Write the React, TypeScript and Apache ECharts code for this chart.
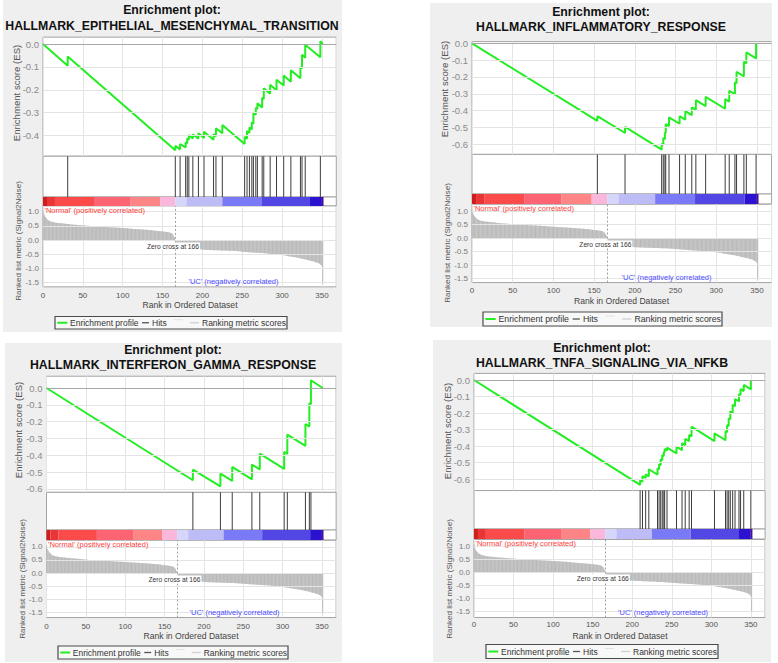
import React, { useEffect, useRef } from "react";
import * as echarts from "echarts";

// ---------------- data ----------------
const X_MAX = 368;
const X_STEP = 50;
const ZERO_CROSS = 166;

const SET_NAMES = [
  "HALLMARK_EPITHELIAL_MESENCHYMAL_TRANSITION",
  "HALLMARK_INFLAMMATORY_RESPONSE",
  "HALLMARK_INTERFERON_GAMMA_RESPONSE",
  "HALLMARK_TNFA_SIGNALING_VIA_NFKB",
];

// ranked list metric (Signal2Noise), rank 0..351
const METRIC = [
  1.05, 0.93, 0.86, 0.81, 0.77, 0.74, 0.71, 0.69, 0.67, 0.66,
  0.65, 0.64, 0.63, 0.63, 0.62, 0.62, 0.61, 0.61, 0.6, 0.6,
  0.6, 0.59, 0.59, 0.59, 0.58, 0.58, 0.58, 0.57, 0.57, 0.57,
  0.56, 0.56, 0.56, 0.56, 0.55, 0.55, 0.55, 0.55, 0.54, 0.54,
  0.54, 0.54, 0.53, 0.53, 0.53, 0.53, 0.52, 0.52, 0.52, 0.52,
  0.51, 0.51, 0.51, 0.51, 0.5, 0.5, 0.5, 0.5, 0.5, 0.49,
  0.49, 0.49, 0.49, 0.49, 0.48, 0.48, 0.48, 0.48, 0.48, 0.47,
  0.47, 0.47, 0.47, 0.47, 0.47, 0.46, 0.46, 0.46, 0.46, 0.46,
  0.45, 0.45, 0.45, 0.45, 0.45, 0.45, 0.44, 0.44, 0.44, 0.44,
  0.44, 0.44, 0.43, 0.43, 0.43, 0.43, 0.43, 0.43, 0.42, 0.42,
  0.42, 0.42, 0.42, 0.41, 0.41, 0.41, 0.41, 0.41, 0.4, 0.4,
  0.4, 0.4, 0.4, 0.39, 0.39, 0.39, 0.39, 0.39, 0.38, 0.38,
  0.38, 0.38, 0.38, 0.37, 0.37, 0.37, 0.37, 0.36, 0.36, 0.36,
  0.36, 0.35, 0.35, 0.35, 0.35, 0.34, 0.34, 0.34, 0.34, 0.33,
  0.33, 0.33, 0.33, 0.32, 0.32, 0.32, 0.31, 0.31, 0.31, 0.3,
  0.3, 0.3, 0.29, 0.29, 0.29, 0.28, 0.28, 0.27, 0.27, 0.26,
  0.25, 0.24, 0.22, 0.19, 0.14, 0.08, -0.02, -0.08, -0.14, -0.19,
  -0.22, -0.24, -0.25, -0.26, -0.27, -0.27, -0.28, -0.28, -0.29, -0.29,
  -0.29, -0.3, -0.3, -0.3, -0.3, -0.31, -0.31, -0.31, -0.31, -0.31,
  -0.32, -0.32, -0.32, -0.32, -0.32, -0.33, -0.33, -0.33, -0.33, -0.33,
  -0.34, -0.34, -0.34, -0.34, -0.34, -0.35, -0.35, -0.35, -0.35, -0.35,
  -0.35, -0.35, -0.35, -0.36, -0.36, -0.36, -0.36, -0.36, -0.36, -0.36,
  -0.36, -0.36, -0.37, -0.37, -0.37, -0.37, -0.37, -0.37, -0.37, -0.37,
  -0.37, -0.38, -0.38, -0.38, -0.38, -0.38, -0.38, -0.38, -0.38, -0.38,
  -0.39, -0.39, -0.39, -0.39, -0.39, -0.4, -0.4, -0.4, -0.4, -0.41,
  -0.41, -0.41, -0.41, -0.42, -0.42, -0.42, -0.42, -0.43, -0.43, -0.43,
  -0.43, -0.43, -0.44, -0.44, -0.44, -0.44, -0.44, -0.45, -0.45, -0.45,
  -0.45, -0.45, -0.46, -0.46, -0.46, -0.46, -0.46, -0.47, -0.47, -0.47,
  -0.47, -0.47, -0.48, -0.48, -0.48, -0.48, -0.49, -0.49, -0.49, -0.49,
  -0.5, -0.5, -0.5, -0.51, -0.51, -0.51, -0.52, -0.52, -0.52, -0.53,
  -0.53, -0.53, -0.54, -0.54, -0.55, -0.55, -0.56, -0.56, -0.57, -0.57,
  -0.58, -0.58, -0.59, -0.59, -0.6, -0.6, -0.61, -0.61, -0.62, -0.62,
  -0.63, -0.63, -0.64, -0.64, -0.65, -0.66, -0.66, -0.67, -0.68, -0.68,
  -0.69, -0.7, -0.7, -0.71, -0.72, -0.72, -0.73, -0.74, -0.75, -0.75,
  -0.76, -0.77, -0.78, -0.79, -0.8, -0.81, -0.82, -0.84, -0.86, -0.88,
  -0.92, -1.55,
];

const COLOR_BAR_EDGES = [0, 5, 15, 64, 110, 147, 166, 180, 225, 274, 335, 350, 352];
const COLOR_BAR_COLORS = [
  "#cf1d1d", "#e93535", "#fa4a4a", "#fc6474", "#fd8585", "#fbb6dc",
  "#d6d6fb", "#bdbcf7", "#7a7af7", "#5246e4", "#2b12d0", "#50108f",
];

const HITS_EMT = [31, 166, 172, 179, 181, 183, 188, 195, 202, 214, 217, 225, 253, 256, 259, 262, 264, 267, 269, 275, 277, 285, 293, 302, 311, 323, 325, 329, 348];
const ES_EMT = [
  [0, 0], [31, -0.095], [31, -0.055], [166, -0.464], [166, -0.445],
  [172, -0.46], [172, -0.437], [179, -0.452], [179, -0.43], [181, -0.434], [181, -0.412],
  [183, -0.418], [183, -0.397], [188, -0.413], [188, -0.395], [195, -0.413], [195, -0.39],
  [202, -0.41], [202, -0.383], [214, -0.418], [214, -0.394], [217, -0.403], [217, -0.368],
  [225, -0.39], [225, -0.354], [253, -0.437], [253, -0.405], [256, -0.414], [256, -0.38],
  [259, -0.388], [259, -0.365], [262, -0.373], [262, -0.342], [264, -0.348], [264, -0.3],
  [267, -0.309], [267, -0.278], [269, -0.284], [269, -0.259], [275, -0.277], [275, -0.235],
  [277, -0.24], [277, -0.193], [285, -0.217], [285, -0.178], [293, -0.202], [293, -0.156],
  [302, -0.181], [302, -0.138], [311, -0.165], [311, -0.115], [323, -0.15], [323, -0.1],
  [325, -0.106], [325, -0.047], [329, -0.06], [329, -0.003], [348, -0.058], [348, 0.012],
  [351, 0.0],
];

const HITS_INFLAM = [154, 188, 233, 235, 237, 238, 242, 255, 262, 270, 275, 287, 311, 316, 323, 325, 334, 337, 349];
const ES_INFLAM = [
  [0, 0], [154, -0.461], [154, -0.433], [188, -0.533], [188, -0.497],
  [233, -0.632], [233, -0.597], [235, -0.603], [235, -0.563], [237, -0.569], [237, -0.53],
  [238, -0.533], [238, -0.48], [242, -0.492], [242, -0.44], [255, -0.478], [255, -0.433],
  [262, -0.454], [262, -0.403], [270, -0.427], [270, -0.38], [275, -0.395], [275, -0.338],
  [287, -0.373], [287, -0.318], [311, -0.389], [311, -0.332], [316, -0.347], [316, -0.282],
  [323, -0.302], [323, -0.232], [325, -0.238], [325, -0.169], [334, -0.196], [334, -0.11],
  [337, -0.119], [337, -0.054], [349, -0.09], [349, 0.0],
];

const HITS_IFNG = [186, 221, 236, 261, 271, 302, 306, 329, 334, 336];
const ES_IFNG = [
  [0, 0], [186, -0.548], [186, -0.485], [221, -0.584], [221, -0.509],
  [236, -0.552], [236, -0.469], [261, -0.543], [261, -0.455], [271, -0.484], [271, -0.39],
  [302, -0.481], [302, -0.38], [306, -0.392], [306, -0.277], [329, -0.344], [329, -0.214],
  [334, -0.229], [334, -0.09], [336, -0.096], [336, 0.046], [351, 0.0],
];

const HITS_TNFA = [210, 213, 217, 221, 232, 234, 236, 238, 240, 241, 244, 256, 263, 267, 272, 275, 304, 318, 320, 322, 324, 327, 330, 335, 337, 341, 350];
const ES_TNFA = [
  [0, 0], [210, -0.636], [210, -0.607], [213, -0.616], [213, -0.582],
  [217, -0.594], [217, -0.572], [221, -0.584], [221, -0.541], [232, -0.573], [232, -0.535],
  [234, -0.541], [234, -0.511], [236, -0.517], [236, -0.481], [238, -0.487], [238, -0.455],
  [240, -0.461], [240, -0.437], [241, -0.44], [241, -0.418], [244, -0.427], [244, -0.41],
  [256, -0.445], [256, -0.404], [263, -0.425], [263, -0.383], [267, -0.395], [267, -0.356],
  [272, -0.371], [272, -0.333], [275, -0.342], [275, -0.283], [304, -0.37], [304, -0.323],
  [318, -0.365], [318, -0.31], [320, -0.316], [320, -0.273], [322, -0.279], [322, -0.232],
  [324, -0.238], [324, -0.19], [327, -0.199], [327, -0.15], [330, -0.159], [330, -0.115],
  [335, -0.13], [335, -0.085], [337, -0.091], [337, -0.055], [341, -0.067], [341, -0.03],
  [350, -0.057], [350, 0.0],
];

const PANELS = [
  { name: SET_NAMES[0], es: ES_EMT, hits: HITS_EMT },
  { name: SET_NAMES[1], es: ES_INFLAM, hits: HITS_INFLAM },
  { name: SET_NAMES[2], es: ES_IFNG, hits: HITS_IFNG },
  { name: SET_NAMES[3], es: ES_TNFA, hits: HITS_TNFA },
];

// ---------------- layout ----------------
const LAYOUTS = [
  {
    bg: [3, 0, 339, 332], cx: 172, t1: 10, t2: 25.5, L: 43, k: 0.797,
    es: { y0: 44, ppu: 229, min: -0.49, max: 0.03 }, hitsBottom: 197, barBottom: 206,
    m: { y0: 240, ppu: 28.4, min: -1.65, max: 1.2 },
    esTitle: [16, 93], mTitle: [18, 241], xTitle: [190, 305], xLabelY: 295, legend: [55, 316.5, 232, 12.5],
  },
  {
    bg: [430, 3, 342, 324], cx: 601, t1: 12.3, t2: 26.7, L: 472, k: 0.814,
    es: { y0: 43.3, ppu: 168.3, min: -0.66, max: 0.01 }, hitsBottom: 194, barBottom: 204,
    m: { y0: 238, ppu: 27, min: -1.65, max: 1.25 },
    esTitle: [444, 89], mTitle: [447, 243], xTitle: [621.5, 301], xLabelY: 290, legend: [483, 312, 239, 14],
  },
  {
    bg: [5, 343, 337, 319], cx: 173, t1: 350, t2: 365, L: 46.5, k: 0.787,
    es: { y0: 388, ppu: 168.3, min: -0.62, max: 0.07 }, hitsBottom: 530, barBottom: 540,
    m: { y0: 573, ppu: 26.2, min: -1.7, max: 1.25 },
    esTitle: [18, 430], mTitle: [22, 579], xTitle: [191, 636], xLabelY: 626, legend: [58, 646, 230, 13],
  },
  {
    bg: [433, 340, 338, 322], cx: 602, t1: 348.3, t2: 362.7, L: 474, k: 0.791,
    es: { y0: 380, ppu: 165, min: -0.67, max: 0.04 }, hitsBottom: 529, barBottom: 539,
    m: { y0: 572, ppu: 26, min: -1.75, max: 1.25 },
    esTitle: [447, 431], mTitle: [449, 579], xTitle: [620, 636], xLabelY: 624, legend: [486, 644.5, 232, 14],
  },
];

const FONT = '"Liberation Sans", Arial, Helvetica, sans-serif';
const GREEN = "#22ee22";

function stepFormatter(step: number) {
  return (v: number) => {
    const q = v / step;
    const r = Math.round(q);
    if (Math.abs(q - r) > 1e-4) return "";
    const val = r * step;
    return (Math.abs(val) < 1e-9 ? 0 : val).toFixed(1);
  };
}

function gridValues(min: number, max: number, step: number) {
  const out: number[] = [];
  for (let i = Math.ceil(min / step - 1e-9); i <= Math.floor(max / step + 1e-9); i++) out.push(+(i * step).toFixed(4));
  return out;
}

function text(x: number, y: number, str: string, font: string, fill: string, align = "center", vAlign = "middle", extra: any = {}) {
  return {
    type: "text", x, y, z: 50, silent: true, ...extra,
    style: {
      text: str, font, fill,
      textAlign: align, textVerticalAlign: vAlign, align, verticalAlign: vAlign,
      ...(extra.style || {}),
    },
  };
}

function buildOption() {
  const grid: any[] = [];
  const xAxis: any[] = [];
  const yAxis: any[] = [];
  const series: any[] = [];
  const graphic: any[] = [];

  PANELS.forEach((d, p) => {
    const l = LAYOUTS[p];
    const W = l.k * X_MAX;
    const esTop = l.es.y0 - l.es.max * l.es.ppu;
    const esBot = l.es.y0 - l.es.min * l.es.ppu;
    const mTop = l.m.y0 - l.m.max * l.m.ppu;
    const mBot = l.m.y0 - l.m.min * l.m.ppu;
    const frame = { show: true, backgroundColor: "#ffffff", borderColor: "#a4a4a4", borderWidth: 1, outerBoundsMode: "none", containLabel: false };
    const g = p * 4;
    grid.push({ ...frame, left: l.L, width: W, top: esTop, height: esBot - esTop });
    grid.push({ ...frame, left: l.L, width: W, top: esBot, height: l.hitsBottom - esBot });
    grid.push({ ...frame, left: l.L, width: W, top: l.hitsBottom, height: l.barBottom - l.hitsBottom });
    grid.push({ ...frame, left: l.L, width: W, top: mTop, height: mBot - mTop });

    const xFmt = (v: number) => (Math.abs(v % X_STEP) < 1e-6 ? String(Math.round(v)) : "");
    for (let j = 0; j < 4; j++) {
      const visible = j === 0 || j === 3;
      xAxis.push({
        type: "value", gridIndex: g + j, min: 0, max: X_MAX, interval: X_STEP, show: visible,
        axisLine: { show: false }, axisTick: { show: false },
        splitLine: { show: visible, lineStyle: { color: "#e4e4e4", width: 1 } },
        axisLabel: {
          show: j === 3, margin: l.xLabelY - mBot - 4, fontSize: 8, color: "#555", fontFamily: FONT, formatter: xFmt,
        },
      });
    }
    yAxis.push({
      type: "value", gridIndex: g, min: l.es.min, max: l.es.max, interval: 0.01,
      axisLine: { show: false }, axisTick: { show: false }, splitLine: { show: false },
      axisLabel: { margin: 4, fontSize: 9.5, color: "#8a8a8a", fontFamily: FONT, formatter: stepFormatter(0.1) },
    });
    yAxis.push({ type: "value", gridIndex: g + 1, min: 0, max: 1, show: false });
    yAxis.push({ type: "value", gridIndex: g + 2, min: 0, max: 1, show: false });
    yAxis.push({
      type: "value", gridIndex: g + 3, min: l.m.min, max: l.m.max, interval: 0.05,
      axisLine: { show: false }, axisTick: { show: false }, splitLine: { show: false },
      axisLabel: { margin: 4, fontSize: 8, color: "#7a7a7a", fontFamily: FONT, formatter: stepFormatter(0.5) },
    });

    // ES grid lines
    series.push({
      type: "line", xAxisIndex: g, yAxisIndex: g, data: [], z: 1, silent: true,
      markLine: {
        silent: true, symbol: ["none", "none"], label: { show: false }, animation: false,
        data: gridValues(l.es.min, l.es.max, 0.1).map((v) => ({
          yAxis: v,
          lineStyle: { color: Math.abs(v) < 1e-9 ? "#a8a8a8" : "#e4e4e4", width: 1, type: "solid" },
        })),
      },
    });
    // running enrichment score
    series.push({
      type: "line", xAxisIndex: g, yAxisIndex: g, data: d.es, showSymbol: false, symbol: "none", z: 3,
      lineStyle: { color: GREEN, width: 2 }, silent: true,
    });
    // hits
    series.push({
      type: "bar", xAxisIndex: g + 1, yAxisIndex: g + 1, data: d.hits.map((h) => [h, 1]),
      barWidth: 1, itemStyle: { color: "#3c3c3c" }, silent: true,
    });
    // colour bar
    series.push({
      type: "line", xAxisIndex: g + 2, yAxisIndex: g + 2, data: [], silent: true,
      markArea: {
        silent: true,
        data: COLOR_BAR_COLORS.map((c, i) => [
          { xAxis: COLOR_BAR_EDGES[i], itemStyle: { color: c, opacity: 1, borderWidth: 0 } },
          { xAxis: COLOR_BAR_EDGES[i + 1] },
        ]),
      },
    });
    // metric grid lines + zero cross
    series.push({
      type: "line", xAxisIndex: g + 3, yAxisIndex: g + 3, data: [], z: 1, silent: true,
      markLine: {
        silent: true, symbol: ["none", "none"], label: { show: false }, animation: false,
        data: [
          ...gridValues(l.m.min, l.m.max, 0.5).map((v) => ({ yAxis: v, lineStyle: { color: "#e4e4e4", width: 1, type: "solid" } })),
          { xAxis: ZERO_CROSS, lineStyle: { color: "#a0a0a0", width: 1, type: [2, 2] } },
        ],
      },
    });
    // ranked list metric
    series.push({
      type: "bar", xAxisIndex: g + 3, yAxisIndex: g + 3, data: METRIC.map((v, i) => [i, v]),
      barWidth: 0.6, itemStyle: { color: "#b9b9b9" }, silent: true, z: 2,
    });

    // ---- texts ----
    const titleFont = `bold 12.3px ${FONT}`;
    graphic.push(text(l.cx, l.t1, "Enrichment plot:", titleFont, "#111"));
    graphic.push(text(l.cx, l.t2, d.name, titleFont, "#111"));
    graphic.push(text(l.esTitle[0], l.esTitle[1], "Enrichment score (ES)", `9.6px ${FONT}`, "#555", "center", "middle", { rotation: Math.PI / 2 }));
    graphic.push(text(l.mTitle[0], l.mTitle[1], "Ranked list metric (Signal2Noise)", `8.1px ${FONT}`, "#555", "center", "middle", { rotation: Math.PI / 2 }));
    graphic.push(text(l.xTitle[0], l.xTitle[1], "Rank in Ordered Dataset", `8.6px ${FONT}`, "#444"));
    graphic.push(text(l.L + 1.5, l.barBottom + 4.5, "'Normal' (positively correlated)", `7.5px ${FONT}`, "#ff3c3c", "left"));
    graphic.push(text(l.L + 239 * l.k, mBot - 5, "'UC' (negatively correlated)", `7.5px ${FONT}`, "#4b4bff"));
    graphic.push(text(l.L + 197 * l.k, l.m.y0 + 6, `Zero cross at ${ZERO_CROSS}`, `6.7px ${FONT}`, "#333", "right", "middle",
      { style: { backgroundColor: "#ffffff", padding: [0, 1] } }));

    // ---- legend ----
    const [bx, by, bw, bh] = l.legend;
    const s = bw / 232;
    const ly = by + bh / 2;
    const lf = `${(8.5 * s).toFixed(2)}px ${FONT}`;
    graphic.push({ type: "rect", z: 40, silent: true, shape: { x: bx, y: by, width: bw, height: bh }, style: { fill: "#f8f8f8", stroke: "#4a4a4a", lineWidth: 1.2 } });
    graphic.push({ type: "line", z: 50, silent: true, shape: { x1: bx + 2.3 * s, y1: ly, x2: bx + 12.3 * s, y2: ly }, style: { stroke: GREEN, lineWidth: 2 } });
    graphic.push(text(bx + 15 * s, ly, "Enrichment profile", lf, "#333", "left"));
    graphic.push({ type: "line", z: 50, silent: true, shape: { x1: bx + 87 * s, y1: ly, x2: bx + 94 * s, y2: ly }, style: { stroke: "#555", lineWidth: 1.3 } });
    graphic.push(text(bx + 97 * s, ly, "Hits", lf, "#333", "left"));
    graphic.push({ type: "line", z: 50, silent: true, shape: { x1: bx + 119 * s, y1: ly - 3, x2: bx + 128 * s, y2: ly - 3 }, style: { stroke: "#e2e2e2", lineWidth: 1 } });
    graphic.push({ type: "line", z: 50, silent: true, shape: { x1: bx + 135 * s, y1: ly, x2: bx + 144 * s, y2: ly }, style: { stroke: "#d0d0d0", lineWidth: 1.3 } });
    graphic.push(text(bx + 147 * s, ly, "Ranking metric scores", lf, "#333", "left"));
  });

  return {
    animation: false,
    backgroundColor: "transparent",
    textStyle: { fontFamily: FONT },
    grid, xAxis, yAxis, series,
    graphic: { elements: graphic },
  };
}

export default function App() {
  const ref = useRef<HTMLDivElement>(null);
  useEffect(() => {
    if (!ref.current) return;
    const chart = echarts.init(ref.current, undefined, { renderer: "svg" });
    chart.setOption(buildOption() as any);
    return () => chart.dispose();
  }, []);
  return (
    <div style={{ position: "absolute", left: 0, top: 0, width: 778, height: 663, background: "#ffffff", overflow: "hidden" }}>
      {LAYOUTS.map((l, i) => (
        <div key={i} style={{ position: "absolute", left: l.bg[0], top: l.bg[1], width: l.bg[2], height: l.bg[3], background: "#efefef" }} />
      ))}
      <div ref={ref} style={{ position: "absolute", left: 0, top: 0, width: 778, height: 663 }} />
    </div>
  );
}
